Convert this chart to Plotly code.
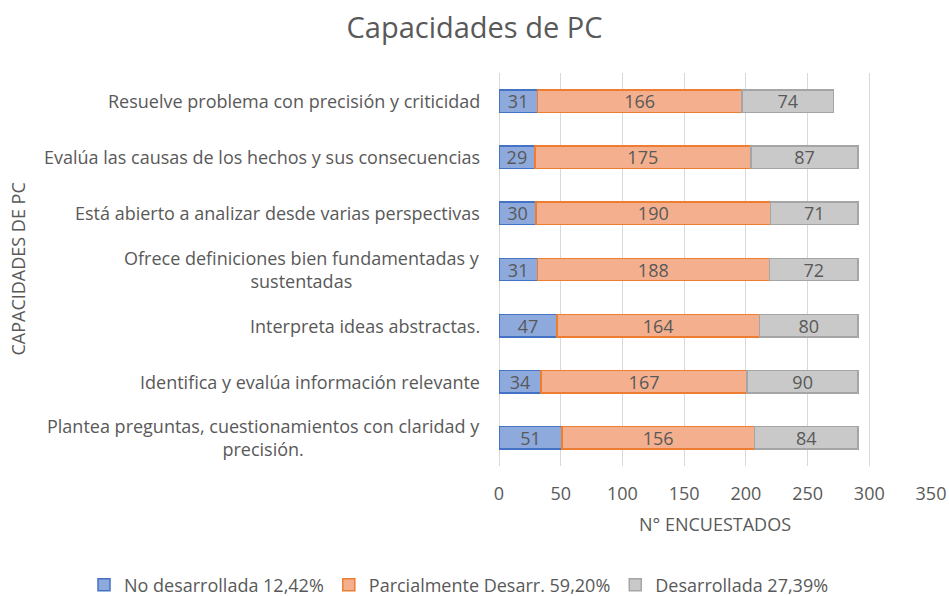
import plotly.graph_objects as go

categories = [
    "Plantea preguntas, cuestionamientos con claridad y<br>precisión.",
    "Identifica y evalúa información relevante",
    "Interpreta ideas abstractas.",
    "Ofrece definiciones bien fundamentadas y<br>sustentadas",
    "Está abierto a analizar desde varias perspectivas",
    "Evalúa las causas de los hechos y sus consecuencias",
    "Resuelve problema con precisión y criticidad",
]
no_desarrollada = [51, 34, 47, 31, 30, 29, 31]
parcialmente = [156, 167, 164, 188, 190, 175, 166]
desarrollada = [84, 90, 80, 72, 71, 87, 74]
series_names = ["No desarrollada 12,42%", "Parcialmente Desarr. 59,20%", "Desarrollada 27,39%"]
x_ticks = [0, 50, 100, 150, 200, 250, 300, 350]

FONT = "'Open Sans', sans-serif"
TXT = "#595959"
FS = 18

fills = ["#8EA9DB", "#F4B08E", "#C9C9C9"]
lines = ["#4472C4", "#ED7D31", "#A5A5A5"]

PL, PR, PT, PB = 499, 931, 73, 466
PW, PH = PR - PL, PB - PT

fig = go.Figure()
for name, vals, fc, lc in zip(series_names, [no_desarrollada, parcialmente, desarrollada], fills, lines):
    fig.add_trace(go.Bar(
        y=categories, x=vals, name=name, orientation="h",
        marker=dict(color=fc, line=dict(color=lc, width=1.5)),
        text=vals, textposition="inside", insidetextanchor="middle", textangle=0,
        textfont=dict(family=FONT, size=FS, color=TXT),
        constraintext="none",
    ))

for c in categories:
    fig.add_annotation(x=0, xref="paper", y=c, yref="y", text=c, showarrow=False,
                       xanchor="right", yanchor="middle", align="center", xshift=-17,
                       font=dict(family=FONT, size=FS, color=TXT))

fig.add_annotation(x=-(PL - 17) / PW, xref="paper", y=0.5, yref="paper", text="CAPACIDADES DE PC",
                   showarrow=False, textangle=-90, xanchor="center", yanchor="middle",
                   font=dict(family=FONT, size=FS, color=TXT))

fig.update_layout(
    width=949, height=596,
    margin=dict(l=PL, r=949 - PR, t=PT, b=596 - PB, autoexpand=False),
    paper_bgcolor="white", plot_bgcolor="white",
    barmode="stack", bargap=0.6,
    title=dict(text="Capacidades de PC", x=0.5, xref="container", xanchor="center",
               y=1 - 28/596, yref="container", yanchor="middle",
               font=dict(family=FONT, size=29, color=TXT)),
    xaxis=dict(range=[0, 350], tickvals=x_ticks, showgrid=True, gridcolor="#D9D9D9", gridwidth=1,
               zeroline=True, zerolinecolor="#D9D9D9", zerolinewidth=1, showline=False,
               tickfont=dict(family=FONT, size=FS, color=TXT), ticks="", ticklen=0,
               ticklabelstandoff=15,
               title=dict(text="N° ENCUESTADOS", font=dict(family=FONT, size=FS, color=TXT), standoff=14)),
    yaxis=dict(showticklabels=False, showgrid=False, zeroline=False, showline=False, ticks=""),
    legend=dict(orientation="h", xref="paper", yref="paper", x=(84 - PL) / PW, y=(PB - 585) / PH,
                xanchor="left", yanchor="middle", traceorder="normal",
                font=dict(family=FONT, size=FS, color=TXT)),
    showlegend=True,
    uniformtext=dict(minsize=8, mode="show"),
)

fig.write_html("out.html", config={"displayModeBar": False},
               post_script="document.body.style.margin='0';")
